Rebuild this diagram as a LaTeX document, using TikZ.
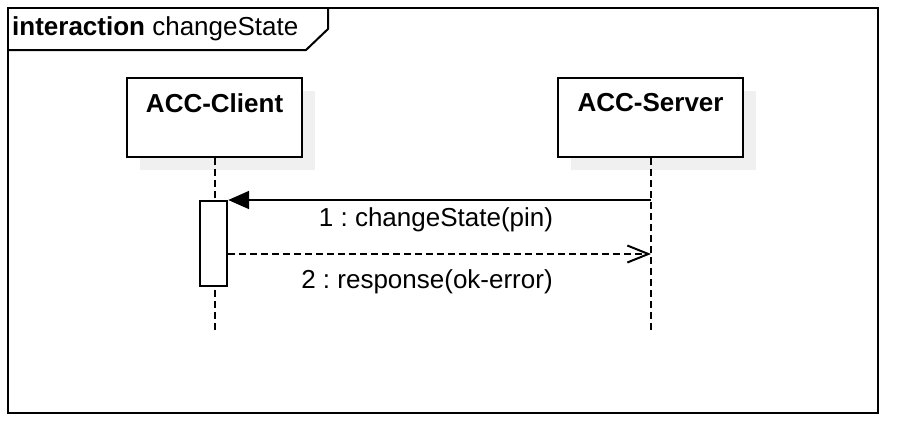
\documentclass[tikz,border=0pt]{standalone}
\usepackage{fontspec}
\setmainfont{Liberation Sans}
\frenchspacing
\usetikzlibrary{arrows.meta,calc}
\begin{document}
\begin{tikzpicture}[x=1pt,y=-1pt,
  lifebox/.style={draw,line width=2.2pt,fill=white,minimum width=175pt,minimum height=79pt,inner sep=0pt,anchor=north west},
  shadowbox/.style={fill=black!6,draw=none},
  lifeline/.style={line width=2pt,dash pattern=on 7pt off 4pt},
  msgtxt/.style={font=\fontsize{26}{30}\selectfont},
  namefont/.style={font=\fontsize{26}{30}\selectfont\bfseries}]
\useasboundingbox (0,0) rectangle (898,440);
% frame
\draw[line width=2.2pt] (8,8) rectangle (878,413);
\draw[line width=2pt] (8,50) -- (306,50) -- (328,29) -- (328,8);
\node[anchor=west,inner sep=0pt,font=\fontsize{26}{30}\selectfont] (title) at (12,29) {\textbf{interaction} changeState};
% shadows
\fill[shadowbox] (140,91) rectangle (315,170);
\fill[shadowbox] (571,91) rectangle (756,170);
% lifeline boxes
\node[lifebox,minimum width=175pt] (client) at (126,77) {};
\node[lifebox,minimum width=185pt] (server) at (557,77) {};
\node[namefont,inner sep=0pt] (clientlbl) at ($(client.north)+(0,26)$) {ACC-Client};
\node[namefont,inner sep=0pt] (serverlbl) at ($(server.north)+(0,26)$) {ACC-Server};
% lifelines
\coordinate (cend) at (215,333);
\coordinate (send) at (651,333);
\draw[lifeline] (client.south -| cend) -- (cend);
\draw[lifeline] (server.south -| send) -- (send);
% activation
\node[draw,line width=2.2pt,fill=white,minimum width=27pt,minimum height=85pt,inner sep=0pt,anchor=north west] (act) at (199,200) {};
% messages
\coordinate (m1s) at (651,200);
\coordinate (m2e) at (651,254);
\draw[line width=2pt,-{Triangle[length=21pt,width=18pt]}] (m1s) -- (m1s -| act.east);
\draw[line width=2pt,dash pattern=on 7pt off 4pt,-{Straight Barb[length=21pt,width=17pt,line width=2pt]}] (act.east |- m2e) -- (m2e);
\node[msgtxt,inner sep=0pt] (l1) at (436,220) {1 : changeState(pin)};
\node[msgtxt,inner sep=0pt] (l2) at (427,282) {2 : response(ok-error)};
\end{tikzpicture}
\end{document}
